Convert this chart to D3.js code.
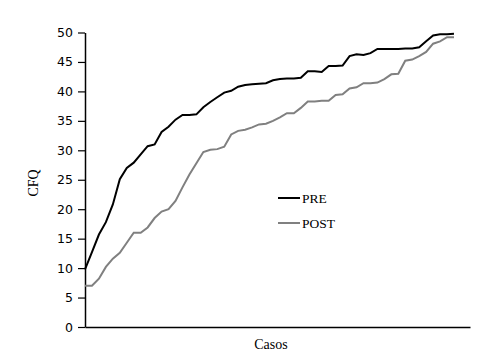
<!DOCTYPE html>
<html>
<head>
<meta charset="utf-8">
<script src="https://cdn.jsdelivr.net/npm/d3@7"></script>
<style>
  body { margin: 0; background: #fff; }
</style>
</head>
<body>
<div id="chart"></div>
<script>
const yTicks = [0, 5, 10, 15, 20, 25, 30, 35, 40, 45, 50]

// one value per case
const pre = [9.8, 12.7, 15.7, 17.8, 20.8, 25.1, 27.0, 27.9, 29.3, 30.7,
  31.0, 33.1, 34.0, 35.2, 36.0, 36.0, 36.1, 37.3, 38.2, 39.0,
  39.8, 40.1, 40.8, 41.1, 41.2, 41.3, 41.4, 41.9, 42.1, 42.2,
  42.2, 42.3, 43.4, 43.4, 43.3, 44.3, 44.3, 44.4, 46.0, 46.3,
  46.2, 46.5, 47.2, 47.2, 47.2, 47.2, 47.3, 47.3, 47.5, 48.5,
  49.5, 49.7, 49.7, 49.8]
const post = [7.0, 7.0, 8.2, 10.2, 11.6, 12.6, 14.3, 16.0, 16.0, 16.9,
  18.5, 19.6, 20.0, 21.4, 23.7, 25.9, 27.8, 29.7, 30.1, 30.2,
  30.6, 32.7, 33.3, 33.5, 33.9, 34.4, 34.5, 35.0, 35.6, 36.3,
  36.3, 37.2, 38.3, 38.3, 38.4, 38.4, 39.4, 39.5, 40.5, 40.7,
  41.4, 41.4, 41.5, 42.1, 42.9, 43.0, 45.2, 45.4, 46.0, 46.7,
  48.1, 48.5, 49.2, 49.2]
const seriesNames = ['PRE', 'POST']
const seriesColors = ['#000000', '#808080']

const width = 503
const height = 357

const svg = d3.select('#chart')
  .append('svg')
  .attr('width', width)
  .attr('height', height)

const x = d3.scaleLinear().domain([0, 55.3]).range([85, 470])
const y = d3.scaleLinear().domain([0, 50]).range([327, 32.5])

// x axis: just the line, no ticks
svg.append('g')
  .attr('transform', 'translate(0,' + y(0) + ')')
  .call(d3.axisBottom(x).tickValues([]).tickSizeOuter(0))
  .select('.domain')
  .attr('stroke', '#000')
  .attr('stroke-width', 1.5)

const yAxis = svg.append('g')
  .attr('transform', 'translate(' + x(0) + ',0)')
  .call(d3.axisLeft(y).tickValues(yTicks).tickSize(7).tickSizeOuter(0).tickPadding(5))
yAxis.select('.domain').attr('stroke-width', 1.5)
yAxis.selectAll('.tick line').attr('stroke-width', 1.2)
yAxis.selectAll('.tick text')
  .attr('font-family', 'DejaVu Sans, sans-serif')
  .attr('font-size', 12.5)
  .attr('fill', '#000')

const line = d3.line()
  .x((d, i) => x(i))
  .y(d => y(d))

const allSeries = [pre, post]
svg.selectAll('.series')
  .data(allSeries)
  .enter()
  .append('path')
  .attr('class', 'series')
  .attr('d', line)
  .attr('fill', 'none')
  .attr('stroke', (d, i) => seriesColors[i])
  .attr('stroke-width', 2)
  .attr('stroke-linejoin', 'miter')

// axis titles
svg.append('text')
  .attr('transform', 'translate(38,183) rotate(-90)')
  .attr('text-anchor', 'middle')
  .attr('font-family', 'Liberation Serif, serif')
  .attr('font-size', 14)
  .text('CFQ')

svg.append('text')
  .attr('x', 271)
  .attr('y', 349)
  .attr('text-anchor', 'middle')
  .attr('font-family', 'Liberation Serif, serif')
  .attr('font-size', 14)
  .text('Casos')

// legend
const legend = svg.selectAll('.legend')
  .data(seriesNames)
  .enter()
  .append('g')
  .attr('class', 'legend')
  .attr('transform', (d, i) => 'translate(278,' + (198 + i * 25) + ')')

legend.append('line')
  .attr('x1', 0).attr('x2', 22)
  .attr('stroke', (d, i) => seriesColors[i])
  .attr('stroke-width', 2)

legend.append('text')
  .attr('x', 24)
  .attr('y', 4.5)
  .attr('font-family', 'Liberation Serif, serif')
  .attr('font-size', 13.5)
  .text(d => d)
</script>
</body>
</html>
